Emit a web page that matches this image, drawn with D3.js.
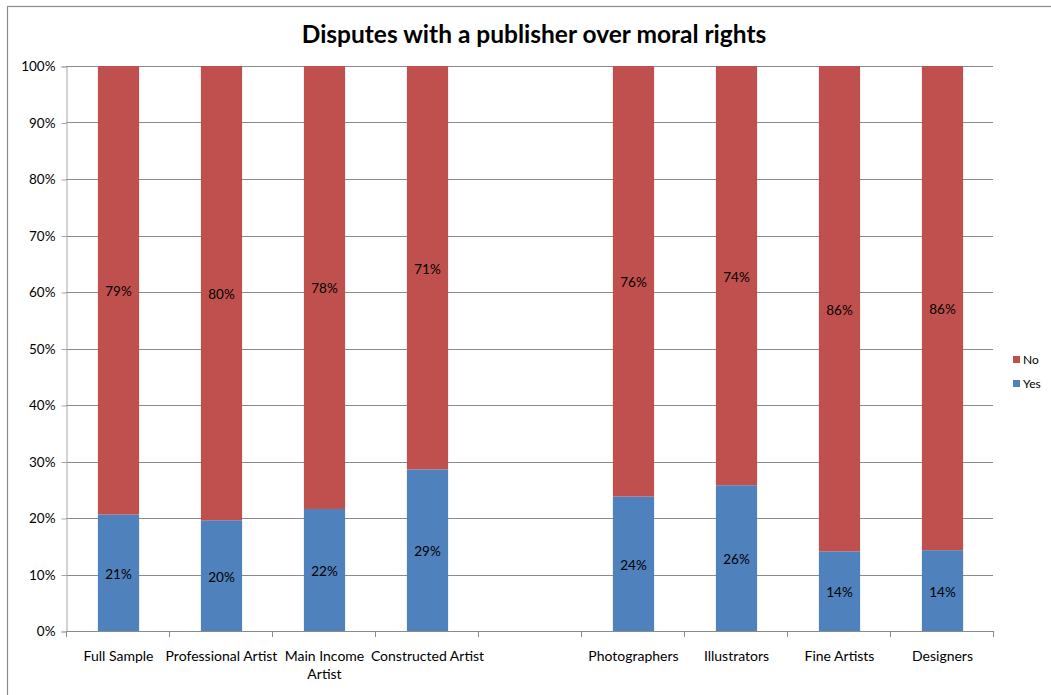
<!DOCTYPE html>
<html>
<head>
<meta charset="utf-8">
<script src="https://cdn.jsdelivr.net/npm/d3@7"></script>
<style>
  html, body { margin: 0; padding: 0; background: #fff; }
  svg { display: block; font-family: Lato, "Open Sans", sans-serif; }
</style>
</head>
<body>
<svg id="chart" width="1051" height="695"></svg>
<script>
// Share of respondents reporting a dispute with a publisher over moral rights
const categories = ["Full Sample", "Professional Artist", "Main Income Artist", "Constructed Artist", "",
                    "Photographers", "Illustrators", "Fine Artists", "Designers"];
const yesValues = [20.6, 19.6, 21.6, 28.6, null, 23.8, 25.8, 14.1, 14.3];
const noValues  = [79.4, 80.4, 78.4, 71.4, null, 76.2, 74.2, 85.9, 85.7];
const seriesNames = ["Yes", "No"];
const seriesColors = ["#4f81bd", "#c0504d"];
const yTicks = [0, 10, 20, 30, 40, 50, 60, 70, 80, 90, 100];

const svg = d3.select("#chart");
const margin = { left: 66, right: 993, top: 66, bottom: 631 };

// chart frame
svg.append("rect").attr("x", 7.5).attr("y", 6.5).attr("width", 1100).attr("height", 750)
  .attr("fill", "#fff").attr("stroke", "#8c8c8c").attr("stroke-width", 1.2);

svg.append("text").attr("x", 534).attr("y", 43).attr("text-anchor", "middle")
  .attr("font-size", 24.5).attr("font-weight", "bold").attr("fill", "#000")
  .text("Disputes with a publisher over moral rights");

const slot = d3.scaleBand().domain(d3.range(categories.length))
  .range([margin.left, margin.right]);
const x = d3.scaleBand().domain(d3.range(categories.length))
  .range([margin.left + 1, margin.right + 1]).paddingInner(0.6).paddingOuter(0.3);
const y = d3.scaleLinear().domain([0, 100]).range([margin.bottom, margin.top]);

// gridlines
svg.append("g").selectAll("line").data(yTicks.filter(t => t > 0)).join("line")
  .attr("x1", margin.left).attr("x2", margin.right)
  .attr("y1", d => Math.round(y(d)) + 0.5).attr("y2", d => Math.round(y(d)) + 0.5)
  .attr("stroke", "#8a8a8a").attr("stroke-width", 1);

// y axis
const yAxis = d3.axisLeft(y).tickValues(yTicks).tickFormat(d => d + "%").tickSize(5).tickPadding(6);
const gy = svg.append("g").attr("transform", `translate(${margin.left + 0.5},0.5)`).call(yAxis);
gy.select(".domain").attr("stroke", "#a6a6a6");
gy.selectAll(".tick line").attr("stroke", "#a6a6a6");
gy.selectAll(".tick text").attr("font-size", 13.5).attr("fill", "#000")
  .attr("font-family", "Lato, 'Open Sans', sans-serif");

// stacked bars
const rows = categories.map((c, i) => ({ i, Yes: yesValues[i], No: noValues[i] }))
  .filter(r => r.Yes !== null);
const stack = d3.stack().keys(seriesNames)(rows);
stack.forEach((layer, k) => {
  const g = svg.append("g");
  g.selectAll("rect").data(layer).join("rect")
    .attr("x", d => x(d.data.i))
    .attr("width", x.bandwidth())
    .attr("y", d => y(d[1]))
    .attr("height", d => y(d[0]) - y(d[1]))
    .attr("fill", seriesColors[k]);
  g.selectAll("text").data(layer).join("text")
    .attr("x", d => x(d.data.i) + x.bandwidth() / 2)
    .attr("y", d => (y(d[0]) + y(d[1])) / 2 + 6)
    .attr("text-anchor", "middle").attr("font-size", 13.5).attr("fill", "#000")
    .text(d => Math.round(d[1] - d[0]) + "%");
});

// x axis (category boundaries)
const gx = svg.append("g");
gx.append("line").attr("x1", margin.left).attr("x2", margin.right)
  .attr("y1", margin.bottom + 0.5).attr("y2", margin.bottom + 0.5).attr("stroke", "#8a8a8a");
gx.selectAll("line.tk").data(d3.range(categories.length + 1)).join("line").attr("class", "tk")
  .attr("x1", d => Math.round(margin.left + d * slot.step()) + 0.5)
  .attr("x2", d => Math.round(margin.left + d * slot.step()) + 0.5)
  .attr("y1", margin.bottom).attr("y2", margin.bottom + 6).attr("stroke", "#8a8a8a");

// category labels, wrapped to the slot width
const labelLines = {"Main Income Artist": ["Main Income", "Artist"]};
categories.forEach((c, i) => {
  if (!c) return;
  const lines = labelLines[c] || [c];
  const t = gx.append("text").attr("text-anchor", "middle").attr("font-size", 14).attr("fill", "#000");
  lines.forEach((ln, j) => {
    t.append("tspan").attr("x", slot(i) + slot.bandwidth() / 2 + 1).attr("y", 661 + j * 18).text(ln);
  });
});

// legend
const legend = svg.append("g");
[["No", seriesColors[1]], ["Yes", seriesColors[0]]].forEach(([name, col], j) => {
  legend.append("rect").attr("x", 1013).attr("y", 356 + j * 24).attr("width", 7).attr("height", 7).attr("fill", col);
  legend.append("text").attr("x", 1023).attr("y", 364 + j * 24).attr("font-size", 12).attr("fill", "#000").text(name);
});
</script>
</body>
</html>
